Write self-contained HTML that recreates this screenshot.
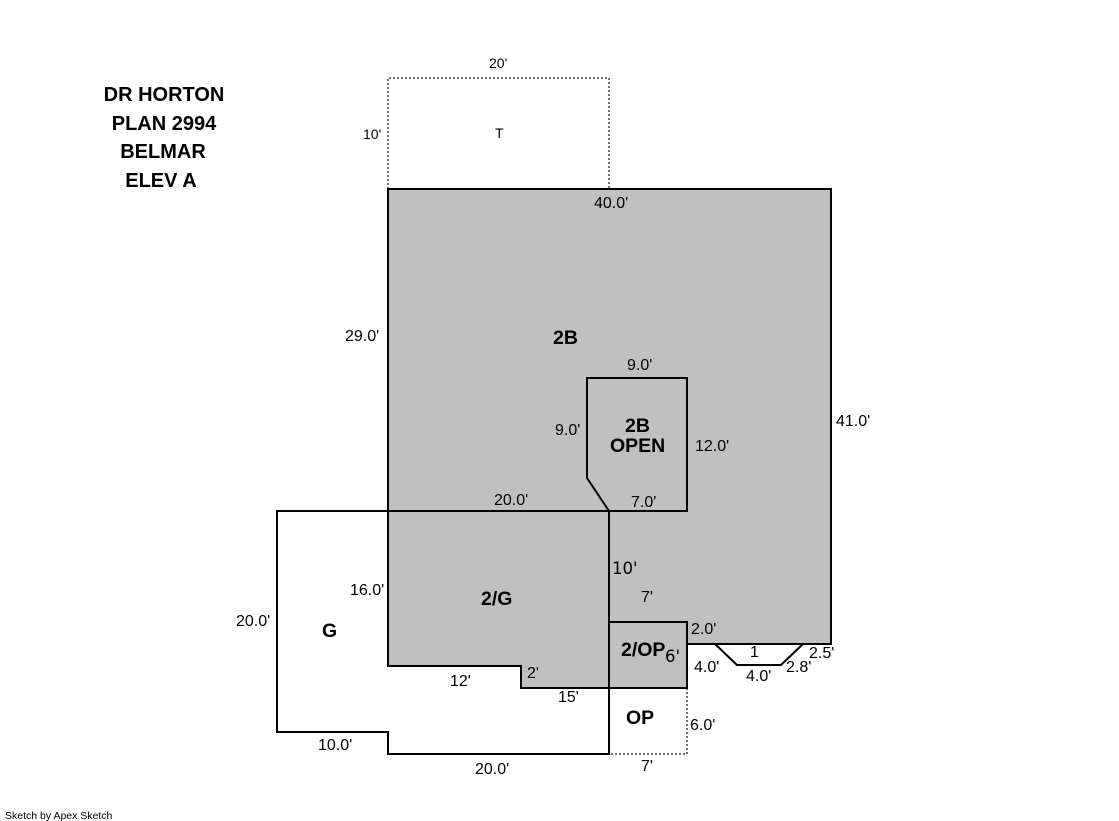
<!DOCTYPE html>
<html>
<head>
<meta charset="utf-8">
<style>
html,body{margin:0;padding:0;background:#fff;}
svg{display:block;}
text{font-family:"Liberation Sans",sans-serif;fill:#000;}
.d{font-size:16px;}
.s{font-size:14px;}
.w{font-family:"DejaVu Sans",sans-serif;font-size:16.5px;}
.b{font-size:19.5px;font-weight:bold;}
.h{font-size:20px;font-weight:bold;text-anchor:middle;}
</style>
</head>
<body>
<svg width="1119" height="821" viewBox="0 0 1119 821" xmlns="http://www.w3.org/2000/svg">
<rect width="1119" height="821" fill="#fff"/>
<!-- gray area -->
<polygon points="388,189 831,189 831,644 687,644 687,688 521,688 521,666 388,666" fill="#c0c0c0"/>
<!-- dotted -->
<g fill="none" stroke="#707070" stroke-width="2" stroke-dasharray="2 2">
<polyline points="388,189 388,78 609,78 609,189"/>
<polyline points="687,688 687,754 609,754"/>
</g>
<!-- solid lines -->
<g fill="none" stroke="#000" stroke-width="2">
<polyline points="388,511 277,511 277,732 388,732 388,754 609,754 609,511"/>
<polygon points="388,189 831,189 831,644 687,644 687,622 609,622 609,688 521,688 521,666 388,666"/>
<polyline points="609,688 687,688 687,644"/>
<polyline points="388,511 687,511 687,378 587,378 587,478 609,511"/>
<polyline points="715,644 737,665 781,665 803,644"/>
</g>
<!-- title -->
<text class="h" x="164" y="101">DR HORTON</text>
<text class="h" x="164" y="130">PLAN 2994</text>
<text class="h" x="163" y="158">BELMAR</text>
<text class="h" x="161" y="187">ELEV A</text>
<!-- small labels -->
<text class="s" x="489" y="68">20'</text>
<text class="s" x="363" y="139">10'</text>
<text class="s" x="495" y="138">T</text>
<!-- dimensions -->
<text class="d" x="594" y="208">40.0'</text>
<text class="d" x="345" y="341">29.0'</text>
<text class="d" x="836" y="426">41.0'</text>
<text class="d" x="627" y="370">9.0'</text>
<text class="d" x="555" y="435">9.0'</text>
<text class="d" x="695" y="451">12.0'</text>
<text class="d" x="631" y="507">7.0'</text>
<text class="d" x="494" y="505">20.0'</text>
<text class="w" x="612" y="574">10'</text>
<text class="d" x="641" y="602">7'</text>
<text class="d" x="350" y="595">16.0'</text>
<text class="d" x="236" y="626">20.0'</text>
<text class="d" x="691" y="634">2.0'</text>
<text class="w" x="665" y="662">6'</text>
<text class="d" x="694" y="672">4.0'</text>
<text class="d" x="750" y="657">1</text>
<text class="d" x="746" y="681">4.0'</text>
<text class="d" x="786" y="672">2.8'</text>
<text class="d" x="809" y="658">2.5'</text>
<text class="d" x="450" y="686">12'</text>
<text class="d" x="527" y="678">2'</text>
<text class="d" x="558" y="702">15'</text>
<text class="d" x="318" y="750">10.0'</text>
<text class="d" x="475" y="774">20.0'</text>
<text class="d" x="690" y="730">6.0'</text>
<text class="d" x="641" y="771">7'</text>
<!-- area labels -->
<text class="b" x="553" y="344">2B</text>
<text class="b" x="625" y="432">2B</text>
<text class="b" x="610" y="452">OPEN</text>
<text class="b" x="481" y="605">2/G</text>
<text class="b" x="322" y="637">G</text>
<text class="b" x="621" y="656">2/OP</text>
<text class="b" x="626" y="724">OP</text>
<text x="5" y="819" style="font-size:10.5px">Sketch by Apex Sketch</text>
</svg>
</body>
</html>
